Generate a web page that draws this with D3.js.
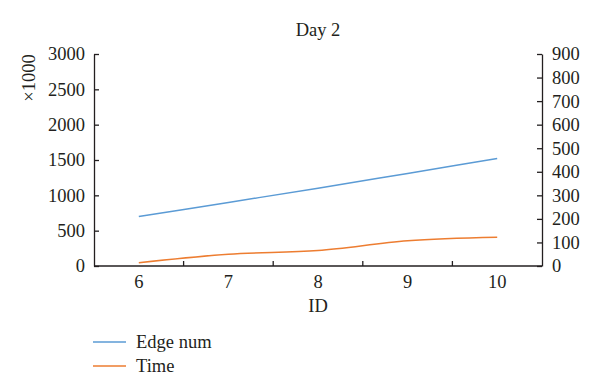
<!DOCTYPE html>
<html><head><meta charset="utf-8">
<script src="https://cdn.jsdelivr.net/npm/d3@7"></script>
<style>body{margin:0;background:#fff}svg{display:block}text{font-family:"Liberation Serif","DejaVu Serif",serif;fill:#231f20}</style>
</head><body>
<script>
const ids = [6, 7, 8, 9, 10];
const edgeNum = [700, 900, 1100, 1310, 1520];
const timeVals = [14, 50, 66, 107, 122];
const leftTicks = [0, 500, 1000, 1500, 2000, 2500, 3000];
const rightTicks = [0, 100, 200, 300, 400, 500, 600, 700, 800, 900];
const title = "Day 2";
const xLabel = "ID";
const yLabel = "×1000";
const seriesNames = ["Edge num", "Time"];
const colors = ["#5b9bd5", "#ed7d31"];

const W = 600, H = 392;
const m = {left: 94, right: 58, top: 54, bottom: 126};
const svg = d3.select("body").append("svg").attr("width", W).attr("height", H);

const x = d3.scaleBand().domain(ids).range([m.left, W - m.right]);
const yL = d3.scaleLinear().domain([0, 3000]).range([H - m.bottom, m.top]);
const yR = d3.scaleLinear().domain([0, 900]).range([H - m.bottom, m.top]);
const fs = 18.5;
const axColor = "#231f20";

const gL = svg.append("g").attr("transform", `translate(${m.left},0)`)
  .call(d3.axisLeft(yL).tickValues(leftTicks).tickFormat(d3.format("d")).tickSizeInner(-5).tickSizeOuter(0).tickPadding(9));
const gR = svg.append("g").attr("transform", `translate(${W - m.right},0)`)
  .call(d3.axisRight(yR).tickValues(rightTicks).tickFormat(d3.format("d")).tickSizeInner(-5).tickSizeOuter(0).tickPadding(10));
const gX = svg.append("g").attr("transform", `translate(0,${H - m.bottom})`)
  .call(d3.axisBottom(x).tickSize(0).tickPadding(9));
gX.selectAll("line.bt").data(ids.slice(1)).enter().append("line").attr("class","bt")
  .attr("x1", d => x(d)).attr("x2", d => x(d)).attr("y1", 0).attr("y2", -5)
  .attr("stroke", axColor).attr("stroke-width", 1.3);

[gL, gR, gX].forEach(g => {
  g.selectAll("path").attr("stroke", axColor).attr("stroke-width", 1.3);
  g.selectAll(".tick line").attr("stroke", axColor).attr("stroke-width", 1.3);
  g.selectAll("text").style("font-size", fs + "px").style("font-family", '"Liberation Serif",serif').attr("fill", axColor);
});
gX.select("path").attr("d", `M${m.left},0H${W - m.right}`);

const cx = d => x(d) + x.bandwidth() / 2;
const lineL = d3.line().x((d, i) => cx(ids[i])).y(d => yL(d)).curve(d3.curveMonotoneX);
const lineR = d3.line().x((d, i) => cx(ids[i])).y(d => yR(d)).curve(d3.curveMonotoneX);
svg.append("path").attr("d", lineL(edgeNum)).attr("fill", "none").attr("stroke", colors[0]).attr("stroke-width", 1.5);
svg.append("path").attr("d", lineR(timeVals)).attr("fill", "none").attr("stroke", colors[1]).attr("stroke-width", 1.5);

svg.append("text").attr("x", 318).attr("y", 36).attr("text-anchor", "middle").style("font-size", fs + "px").text(title);
svg.append("text").attr("x", 318).attr("y", 312).attr("text-anchor", "middle").style("font-size", fs + "px").text(xLabel);
svg.append("text").attr("transform", "translate(35,78) rotate(-90)").attr("text-anchor", "middle").style("font-size", fs + "px").text(yLabel);

const leg = svg.append("g");
seriesNames.forEach((n, i) => {
  const yy = 342 + i * 24;
  leg.append("line").attr("x1", 93).attr("x2", 126).attr("y1", yy).attr("y2", yy).attr("stroke", colors[i]).attr("stroke-width", 1.5);
  leg.append("text").attr("x", 136).attr("y", yy + 6).style("font-size", fs + "px").text(n);
});
</script>
</body></html>
